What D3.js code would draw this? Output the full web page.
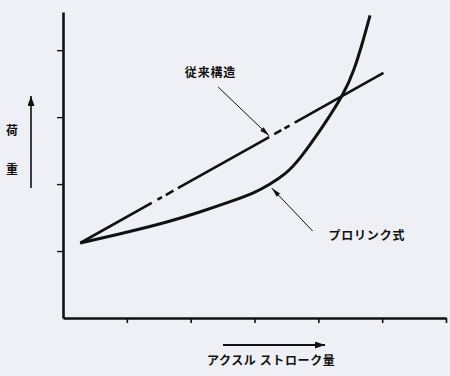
<!DOCTYPE html>
<html>
<head>
<meta charset="utf-8">
<script src="https://cdn.jsdelivr.net/npm/d3@7"></script>
<style>
  html, body { margin: 0; padding: 0; background: #eef0f6; }
  svg { display: block; }
  text { font-family: "Noto Sans CJK JP", sans-serif; font-weight: bold; fill: #111; }
</style>
</head>
<body>
<div id="chart"></div>
<script>
// values (axis units: one tick = 1)
const xTicks = [1, 2, 3, 4, 5, 6];
const yTicks = [1, 2, 3, 4];

// 従来構造: straight line, drawn with breaks
const conventional = [[0.27, 1.12], [5.02, 3.66]];
const conventionalSolid = [[0.27, 1.39], [1.48, 1.55], [1.61, 1.73], [1.80, 3.23], [3.31, 3.42], [3.47, 3.55], [3.63, 5.02]];

// プロリンク式: progressive curve
const prolinkX = [0.27, 1.09, 1.63, 2.14, 2.66, 3.00, 3.23, 3.50, 3.70, 4.06, 4.41, 4.56, 4.69, 4.81];
const prolinkY = [1.12, 1.30, 1.43, 1.58, 1.75, 1.87, 1.99, 2.16, 2.36, 2.84, 3.36, 3.70, 4.10, 4.52];

const labels = [
  { text: '従来構造', at: [2.31, 3.6], from: [2.43, 3.45], to: [3.23, 2.72] },
  { text: 'プロリンク式', at: [4.76, 1.17], from: [3.91, 1.30], to: [3.27, 1.94] }
];

const width = 450, height = 376;
const svg = d3.select('#chart').append('svg')
    .attr('width', width).attr('height', height);

const x = d3.scaleLinear().domain([0, 6]).range([63, 446]);
const y = d3.scaleLinear().domain([0, 4.57]).range([318, 12]);

const defs = svg.append('defs');
defs.append('marker')
    .attr('id', 'lead').attr('viewBox', '0 0 10 6')
    .attr('refX', 10).attr('refY', 3)
    .attr('markerWidth', 10).attr('markerHeight', 6)
    .attr('markerUnits', 'userSpaceOnUse').attr('orient', 'auto')
  .append('path').attr('d', 'M0,0.6L10,3L0,5.4Z').attr('fill', '#111');
defs.append('marker')
    .attr('id', 'big').attr('viewBox', '0 0 10 7')
    .attr('refX', 10).attr('refY', 3.5)
    .attr('markerWidth', 10).attr('markerHeight', 7)
    .attr('markerUnits', 'userSpaceOnUse').attr('orient', 'auto')
  .append('path').attr('d', 'M0,0L10,3.5L0,7Z').attr('fill', '#111');

// axes
svg.append('g')
    .attr('transform', `translate(0,${y(0)})`)
    .call(d3.axisBottom(x).tickValues(xTicks).tickSize(5).tickSizeOuter(0).tickFormat(''))
    .call(g => g.select('.domain').attr('stroke-width', 2.6))
    .call(g => g.selectAll('.tick line').attr('stroke-width', 1.6));

svg.append('g')
    .attr('transform', `translate(${x(0)},0)`)
    .call(d3.axisLeft(y).tickValues(yTicks).tickSize(6).tickSizeOuter(0).tickFormat(''))
    .call(g => g.select('.domain').attr('stroke-width', 2.6))
    .call(g => g.selectAll('.tick line').attr('stroke-width', 1.4));

svg.selectAll('.domain, .tick line').attr('stroke', '#111');

// axis titles with arrows
svg.append('line')
    .attr('x1', 31).attr('y1', 188).attr('x2', 31).attr('y2', 96)
    .attr('stroke', '#111').attr('stroke-width', 1.6).attr('marker-end', 'url(#big)');
svg.append('text').attr('x', 12).attr('y', 135).attr('text-anchor', 'middle')
    .attr('font-size', 12).text('荷');
svg.append('text').attr('x', 12).attr('y', 174).attr('text-anchor', 'middle')
    .attr('font-size', 12).text('重');

svg.append('line')
    .attr('x1', 223).attr('y1', 345).attr('x2', 325).attr('y2', 345)
    .attr('stroke', '#111').attr('stroke-width', 1.8).attr('marker-end', 'url(#big)');
svg.append('text').attr('x', 207).attr('y', 365)
    .attr('font-size', 12).attr('letter-spacing', 0.6)
    .text('アクスル ストローク量');

// conventional line with breaks
const line = d3.line().x(d => x(d[0])).y(d => y(d[1]));
const conv = svg.append('path')
    .datum(conventional)
    .attr('d', line)
    .attr('fill', 'none').attr('stroke', '#111').attr('stroke-width', 2.6);
const len = conv.node().getTotalLength();
const x0 = conventional[0][0], span = conventional[1][0] - x0;
const dash = [];
let pos = 0;
conventionalSolid.forEach(([a, b], i) => {
  const s = (a - x0) / span * len, e = (b - x0) / span * len;
  if (i > 0) dash.push(s - pos);
  dash.push(e - s);
  pos = e;
});
dash.push(len);
conv.attr('stroke-dasharray', dash.join(' '));

// prolink curve
const curve = d3.line().curve(d3.curveBasis)
    .x(d => x(d[0])).y(d => y(d[1]));
svg.append('path')
    .datum(d3.zip(prolinkX, prolinkY))
    .attr('d', curve)
    .attr('fill', 'none').attr('stroke', '#111').attr('stroke-width', 3);

// leaders and labels
svg.selectAll('.leader').data(labels).enter().append('line')
    .attr('class', 'leader')
    .attr('x1', d => x(d.from[0])).attr('y1', d => y(d.from[1]))
    .attr('x2', d => x(d.to[0])).attr('y2', d => y(d.to[1]))
    .attr('stroke', '#111').attr('stroke-width', 1)
    .attr('marker-end', 'url(#lead)');

svg.selectAll('.lab').data(labels).enter().append('text')
    .attr('class', 'lab')
    .attr('x', d => x(d.at[0])).attr('y', d => y(d.at[1]))
    .attr('text-anchor', 'middle').attr('font-size', 12).attr('letter-spacing', 0.8)
    .text(d => d.text);
</script>
</body>
</html>
